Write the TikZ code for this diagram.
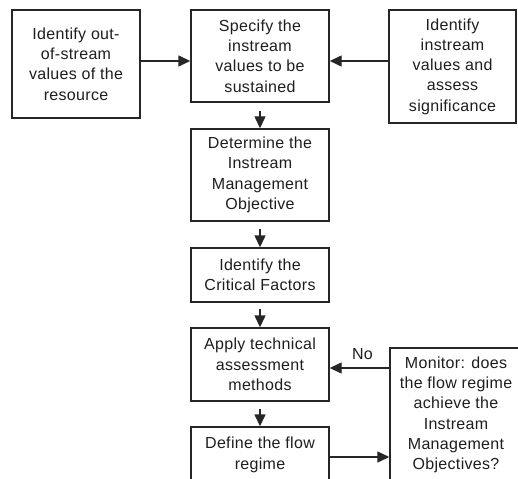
\documentclass[tikz,border=0pt]{standalone}
\usepackage{fontspec}
\setmainfont{Liberation Sans}
\usetikzlibrary{arrows.meta}
\definecolor{ln}{HTML}{262626}
\definecolor{tx}{HTML}{1E1E1E}
\begin{document}
\begin{tikzpicture}[x=1pt,y=-1pt,
  box/.style={draw=ln, line width=1.4pt, align=center, inner sep=0pt, text=tx,
    font=\fontsize{16}{20.3}\selectfont\addfontfeatures{LetterSpace=2}},
  arr/.style={draw=ln, line width=1.4pt, -{Triangle[length=12pt,width=11pt]}},
  lbl/.style={text=tx, inner sep=0pt, font=\fontsize{16}{20}\selectfont\addfontfeatures{LetterSpace=2}}]
\useasboundingbox (0,0) rectangle (518,478);
\clip (0,0) rectangle (518,478);
\fill[white] (0,0) rectangle (518,478);
\node[box, minimum width=128pt, minimum height=108pt] (b1) at (76,64)
  {Identify out-\\of-stream\\values of the\\resource};
\node[box, minimum width=138pt, minimum height=92pt] (b2) at (260,56)
  {Specify the\\instream\\values to be\\sustained};
\node[box, minimum width=127pt, minimum height=113pt] (b3) at (452.5,66.5)
  {Identify\\instream\\values and\\assess\\significance};
\node[box, minimum width=138pt, minimum height=92pt] (b4) at (260,175)
  {Determine the\\Instream\\Management\\Objective};
\node[box, minimum width=138pt, minimum height=54pt] (b5) at (260,275)
  {Identify the\\Critical Factors};
\node[box, minimum width=138pt, minimum height=73pt] (b6) at (260,364.5)
  {Apply technical\\assessment\\methods};
\node[box, minimum width=138pt, minimum height=56pt] (b7) at (260,455)
  {Define the flow\\regime};
\node[box, minimum width=132pt, minimum height=134pt] (b8) at (456,415)
  {Monitor: does\\the flow regime\\achieve the\\Instream\\Management\\Objectives?};
\coordinate (ya) at (0,61);
\coordinate (yn) at (0,368);
\coordinate (yd) at (0,457);
\draw[arr] (b1.east |- ya) -- (b2.west |- ya);
\draw[arr] (b3.west |- ya) -- (b2.east |- ya);
\draw[arr, shorten <=8pt] (b2.south) -- (b4.north);
\draw[arr, shorten <=7pt] (b4.south) -- (b5.north);
\draw[arr, shorten <=6pt] (b5.south) -- (b6.north);
\draw[arr, shorten <=7pt] (b6.south) -- (b7.north);
\draw[arr] (b8.west |- yn) -- (b6.east |- yn);
\draw[arr] (b7.east |- yd) -- (b8.west |- yd);
\node[lbl] (no) at (362.5,354) {No};
\end{tikzpicture}
\end{document}
